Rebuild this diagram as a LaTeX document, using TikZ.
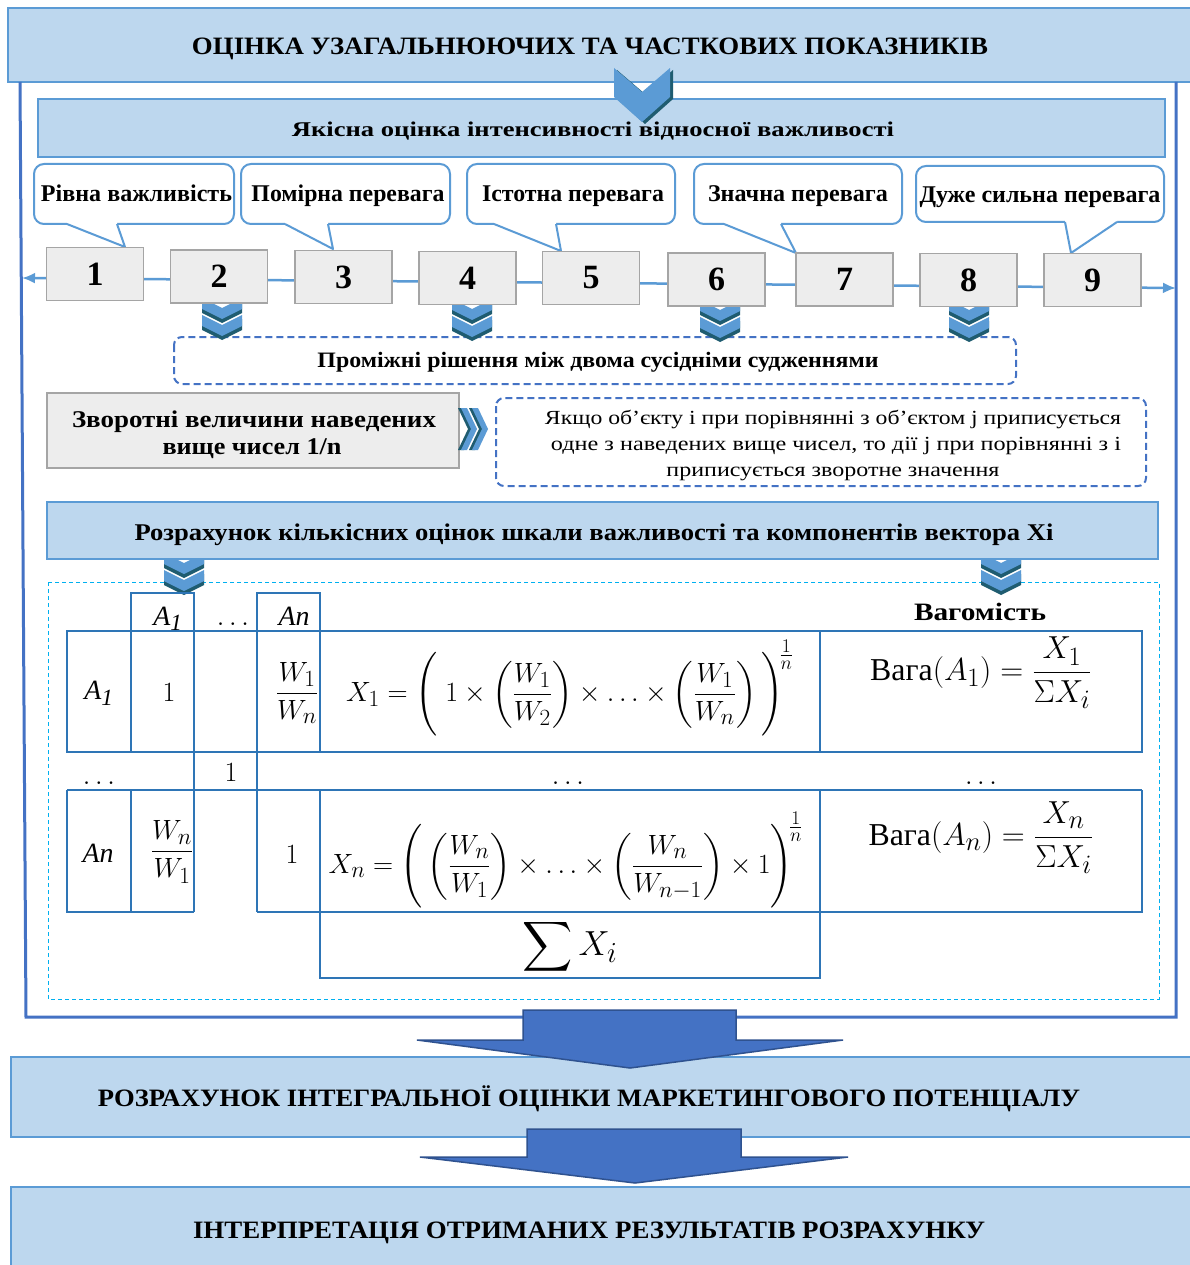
\documentclass[tikz,border=0pt]{standalone}
\usepackage{amsmath}
\usepackage{graphicx}
\usepackage{fontspec}
\setmainfont{Liberation Serif}
\usetikzlibrary{arrows.meta}
\definecolor{lblue}{HTML}{BDD7EE}
\definecolor{bblue}{HTML}{5B9BD5}
\definecolor{fblue}{HTML}{4472C4}
\definecolor{gfill}{HTML}{EDEDED}
\definecolor{gline}{HTML}{A5A5A5}
\definecolor{chdark}{HTML}{1F5C70}
\definecolor{cyanl}{HTML}{00B0F0}
\definecolor{tline}{HTML}{2E75B6}
\definecolor{adark}{HTML}{2F528F}
\newcommand\hfit[2]{\resizebox{#1pt}{\height}{#2}}
\newcommand\mbig[1]{\scalebox{1.12}{#1}}
\newcommand\chevD[2]{%
 \fill[chdark] ({#1-20},{#2+4}) -- (#1,{#2+14}) -- ({#1+20},{#2+4}) -- ({#1+20},{#2+15}) -- (#1,{#2+25}) -- ({#1-20},{#2+15}) -- cycle;
 \fill[bblue] ({#1-20},{#2}) -- (#1,{#2+10}) -- ({#1+20},{#2}) -- ({#1+20},{#2+11}) -- (#1,{#2+21}) -- ({#1-20},{#2+11}) -- cycle;}
\newcommand\dchevD[2]{\chevD{#1}{#2}\chevD{#1}{#2+17}}
\newcommand\chevR[3]{%
 \fill[chdark] ({#1-3},{#2}) -- ({#1+3},{#2}) -- ({#1+13},{(#2+#3)/2}) -- ({#1+3},{#3}) -- ({#1-3},{#3}) -- ({#1+7},{(#2+#3)/2}) -- cycle;
 \fill[bblue] (#1,{#2}) -- ({#1+6},{#2}) -- ({#1+16},{(#2+#3)/2}) -- ({#1+6},{#3}) -- (#1,{#3}) -- ({#1+10},{(#2+#3)/2}) -- cycle;}
\newcommand\callbox[8]{%
 \draw[callout] (#1,#3) rectangle (#2,#4);
 \fill[white] (#5,{#4-2}) -- (#5,#4) -- (#7,#8) -- (#6,#4) -- (#6,{#4-2}) -- cycle;
 \draw[callptr] (#5,#4) -- (#7,#8) -- (#6,#4);}
\tikzset{
 lbox/.style={draw=bblue, fill=lblue, line width=2pt, inner sep=0pt},
 frame/.style={draw=fblue, line width=3pt},
 numbox/.style={draw=gline, fill=gfill, line width=1.5pt, minimum width=97pt, minimum height=53pt, inner sep=0pt, font=\fontsize{34}{36}\selectfont\bfseries},
 graybox/.style={draw=gline, fill=gfill, line width=1.5pt, inner sep=0pt},
 callout/.style={draw=bblue, fill=white, line width=2pt, rounded corners=10pt},
 callptr/.style={draw=bblue, line width=2pt, line join=round},
 numline/.style={draw=bblue, line width=2.5pt, {Latex[length=13pt,width=11pt]}-{Latex[length=13pt,width=11pt]}},
 dbox/.style={draw=fblue, line width=2pt, dash pattern=on 7pt off 4pt, rounded corners=8pt},
 cbox/.style={draw=cyanl, line width=1pt, dash pattern=on 4pt off 3pt},
 tl/.style={draw=tline, line width=1.3pt},
 barrow/.style={fill=fblue, draw=adark, line width=1.5pt},
 bt/.style={inner sep=0pt, anchor=base},
 mt/.style={inner sep=0pt, font=\fontsize{24.88}{28}\selectfont},
}
\begin{document}
\begin{tikzpicture}[x=1pt,y=-1pt]
\useasboundingbox (0,0) rectangle (1189,1265);
\fill[white] (0,0) rectangle (1189,1265);

% top box
\node[lbox, minimum width=1184pt, minimum height=74pt] (topbox) at (600,45) {};
\node[bt, font=\fontsize{25}{28}\selectfont\bfseries] (toptxt) at (590,55) {\hfit{796}{ОЦІНКА УЗАГАЛЬНЮЮЧИХ ТА ЧАСТКОВИХ ПОКАЗНИКІВ}};

% frame
\draw[frame] (20,82) -- (26,1017) -- (1176,1017) -- (1176,82);

% second box
\node[lbox, minimum width=1127pt, minimum height=58pt] (qbox) at (601.5,128) {};
\node[bt, font=\fontsize{21}{24}\selectfont\bfseries] (qtxt) at (593,137) {\hfit{602}{Якісна оцінка інтенсивності відносної важливості}};

% big chevron
\fill[chdark] (617,70) -- (645,94) -- (673,70) -- (673,99) -- (645,124) -- (617,99) -- cycle;
\fill[bblue] (614,68) -- (642,92) -- (670,68) -- (670,97) -- (642,122) -- (614,97) -- cycle;

% callouts
\callbox{34}{234}{164}{224}{67}{117}{125}{247}
\callbox{241}{450}{164}{224}{285}{328}{333}{249}
\callbox{467}{675}{164}{224}{494}{556}{561}{251}
\callbox{694}{902}{164}{224}{724}{781}{796}{253}
\callbox{916}{1164}{166}{222}{1065}{1117}{1071}{253}
\begin{scope}[every node/.style={bt, font=\fontsize{24}{28}\selectfont\bfseries}]
\node (c1) at (136.5,202) {\hfit{191}{Рівна важливість}};
\node (c2) at (348,202) {\hfit{193}{Помірна перевага}};
\node (c3) at (573,202) {\hfit{182}{Істотна перевага}};
\node (c4) at (798,202) {\hfit{180}{Значна перевага}};
\node (c5) at (1040,203) {\hfit{241}{Дуже сильна перевага}};
\end{scope}

% intermediate dashed box
\draw[dbox] (174,337) rectangle (1016,384);
\node[bt, font=\fontsize{22}{26}\selectfont\bfseries] (mid) at (598,367) {\hfit{561}{Проміжні рішення між двома сусідніми судженнями}};

% number line
\coordinate (la) at (22,278);
\coordinate (ra) at (1176,288);
\draw[numline] (la) -- (ra);

% chevrons under boxes
\dchevD{222}{298}
\dchevD{472}{299}
\dchevD{720}{300}
\dchevD{969}{300}

% number boxes
\node[numbox] (n1) at (95,274) {1};
\node[numbox] (n2) at (219,276.5) {2};
\node[numbox] (n3) at (343.5,277) {3};
\node[numbox] (n4) at (467.5,278) {4};
\node[numbox] (n5) at (591,278) {5};
\node[numbox] (n6) at (716.5,279.5) {6};
\node[numbox] (n7) at (844.5,279.5) {7};
\node[numbox] (n8) at (968.5,280) {8};
\node[numbox] (n9) at (1092.5,280) {9};

% reciprocal box
\node[graybox, minimum width=412pt, minimum height=75pt] (rbox) at (253,430.5) {};
\node[bt, font=\fontsize{24}{28}\selectfont\bfseries] (r1) at (254,427) {\hfit{364}{Зворотні величини наведених}};
\node[bt, font=\fontsize{24}{28}\selectfont\bfseries] (r2) at (252,454) {\hfit{179}{вище чисел 1/n}};
\chevR{461}{408}{450}
\chevR{472}{408}{450}
\draw[dbox] (496,398) rectangle (1146,486);
\begin{scope}[every node/.style={bt, font=\fontsize{20}{24}\selectfont}]
\node (e1) at (833,424) {\hfit{576}{Якщо об'єкту і при порівнянні з об'єктом j приписується}};
\node (e2) at (836,450) {\hfit{570}{одне з наведених вище чисел, то дії j при порівнянні з і}};
\node (e3) at (833,476) {\hfit{333}{приписується зворотне значення}};
\end{scope}

% calc area
\draw[cbox] (48,582) rectangle (1159,999);
\dchevD{184}{553}
\dchevD{1001}{553}
\node[lbox, minimum width=1111pt, minimum height=57pt] (cbx) at (602.5,530.5) {};
\node[bt, font=\fontsize{24}{28}\selectfont\bfseries] (ctxt) at (594,540) {\hfit{919}{Розрахунок кількісних оцінок шкали важливості та компонентів вектора Xi}};

% table
\draw[tl] (131,593) rectangle (194,631);
\draw[tl] (257,593) rectangle (320,631);
\draw[tl] (67,631) rectangle (1142,752);
\draw[tl] (131,631) -- (131,752);
\draw[tl] (194,593) -- (194,912);
\draw[tl] (257,593) -- (257,912);
\draw[tl] (320,631) -- (320,752);
\draw[tl] (820,631) -- (820,752);
\draw[tl] (67,790) -- (1142,790);
\draw[tl] (67,790) -- (67,912) -- (194,912);
\draw[tl] (131,790) -- (131,912);
\draw[tl] (257,912) -- (1142,912) -- (1142,790);
\draw[tl] (320,790) -- (320,978) -- (820,978) -- (820,790);

\node[mt, anchor=base] (hA1) at (168,625) {\mbig{\textit{A}\textsubscript{\textit{1}}}};
\node[mt, anchor=base] (hdots) at (233,625) {\mbig{$\ldots$}};
\node[mt, anchor=base] (hAn) at (294,625) {\mbig{\textit{An}}};
\node[bt, font=\fontsize{25}{28}\selectfont\bfseries] (wg) at (980,620) {\hfit{132}{Вагомість}};

\node[mt] (a1) at (99,693) {\mbig{\textit{A}\textsubscript{\textit{1}}}};
\node[mt] (one1) at (169,693) {\mbig{$1$}};
\node[mt] (w1n) at (297,693) {\mbig{$\dfrac{W_1}{W_n}$}};
\node[mt] (x1) at (570,688) {\mbig{$X_1 = \Bigg(\;1\times\left(\dfrac{W_1}{W_2}\right)\times\ldots\times\left(\dfrac{W_1}{W_n}\right)\Bigg)^{\!\frac{1}{n}}$}};
\node[mt] (v1) at (981,673) {\scalebox{1.28}{Вага$(A_1) = \dfrac{X_1}{\Sigma X_i}$}};

\node[mt, anchor=base] (d1) at (99,784) {\mbig{$\ldots$}};
\node[mt] (onem) at (231,773) {\mbig{$1$}};
\node[mt, anchor=base] (d2) at (568,784) {\mbig{$\ldots$}};
\node[mt, anchor=base] (d3) at (981,784) {\mbig{$\ldots$}};

\node[mt] (an) at (98,853) {\mbig{\textit{An}}};
\node[mt] (wn1) at (172,852) {\mbig{$\dfrac{W_n}{W_1}$}};
\node[mt] (onen) at (292,855) {\mbig{$1$}};
\node[mt] (xn) at (566,860) {\mbig{$X_n = \Bigg(\left(\dfrac{W_n}{W_1}\right)\times\ldots\times\left(\dfrac{W_n}{W_{n-1}}\right)\times 1\Bigg)^{\!\frac{1}{n}}$}};
\node[mt] (vn) at (981,838) {\scalebox{1.28}{Вага$(A_n) = \dfrac{X_n}{\Sigma X_i}$}};
\node[mt] (sx) at (570,947) {\scalebox{1.4}{$\displaystyle\sum X_i$}};

% bottom boxes and arrows
\node[lbox, minimum width=1184pt, minimum height=80pt] (b3) at (603,1097) {};
\node[bt, font=\fontsize{25}{28}\selectfont\bfseries] (b3t) at (589,1106) {\hfit{982}{РОЗРАХУНОК ІНТЕГРАЛЬНОЇ ОЦІНКИ МАРКЕТИНГОВОГО ПОТЕНЦІАЛУ}};
\draw[barrow] (523,1010) -- (736,1010) -- (736,1040) -- (843,1040) -- (630,1068) -- (417,1040) -- (523,1040) -- cycle;
\node[lbox, minimum width=1184pt, minimum height=93pt] (b4) at (603,1233.5) {};
\node[bt, font=\fontsize{25}{28}\selectfont\bfseries] (b4t) at (589,1238) {\hfit{792}{ІНТЕРПРЕТАЦІЯ ОТРИМАНИХ РЕЗУЛЬТАТІВ РОЗРАХУНКУ}};
\draw[barrow] (527,1129) -- (741,1129) -- (741,1157) -- (848,1157) -- (635,1183) -- (420,1157) -- (527,1157) -- cycle;
\end{tikzpicture}
\end{document}
